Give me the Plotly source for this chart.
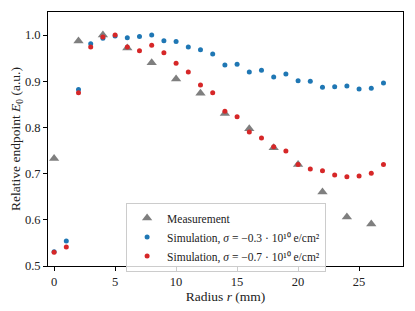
import plotly.graph_objects as go

meas_r = [0, 2, 4, 6, 8, 10, 12, 14, 16, 18, 20, 22, 24, 26]
meas_e = [0.733, 0.987, 1.0, 0.972, 0.940, 0.905, 0.874, 0.830, 0.797, 0.756, 0.720, 0.660, 0.606, 0.591]

sim_r = list(range(0, 28))
sim03_e = [0.531, 0.554, 0.882, 0.981, 0.993, 0.998, 0.994, 0.997, 1.0, 0.988, 0.986, 0.974,
           0.968, 0.959, 0.935, 0.937, 0.920, 0.924, 0.909, 0.916, 0.901, 0.900, 0.887, 0.888,
           0.890, 0.883, 0.885, 0.896]
sim07_e = [0.530, 0.541, 0.875, 0.974, 0.996, 1.0, 0.974, 0.966, 0.978, 0.962, 0.939, 0.920,
           0.892, 0.875, 0.835, 0.823, 0.790, 0.777, 0.758, 0.749, 0.720, 0.710, 0.706, 0.697,
           0.693, 0.695, 0.701, 0.720]

x_ticks = [0, 5, 10, 15, 20, 25]
y_ticks = [0.5, 0.6, 0.7, 0.8, 0.9, 1.0]

font = "Liberation Serif"

fig = go.Figure()
fig.add_trace(go.Scatter(x=meas_r, y=meas_e, mode="markers", name="Measurement",
                         marker=dict(symbol="triangle-up", size=9, color="#7f7f7f")))
fig.add_trace(go.Scatter(x=sim_r, y=sim03_e, mode="markers",
                         name="Simulation, <i>σ</i> = −0.3 · 10¹⁰ e/cm²",
                         marker=dict(size=5, color="#1f77b4")))
fig.add_trace(go.Scatter(x=sim_r, y=sim07_e, mode="markers",
                         name="Simulation, <i>σ</i> = −0.7 · 10¹⁰ e/cm²",
                         marker=dict(size=5, color="#d62728")))

axis_common = dict(showline=True, linecolor="black", linewidth=1, mirror=True,
                   ticks="outside", ticklen=4, tickcolor="black", showgrid=False,
                   zeroline=False, automargin=False,
                   tickfont=dict(size=12.5, color="#222222", family=font))

fig.update_layout(
    width=415, height=311,
    margin=dict(l=40, r=20, t=4, b=53),
    plot_bgcolor="white", paper_bgcolor="white",
    font=dict(family=font, size=12.5, color="#222222"),
    xaxis=dict(range=[-0.5, 28.6], tickvals=x_ticks,
               title=dict(text="Radius <i>r</i> (mm)", font=dict(size=13.5), standoff=0),
               **axis_common),
    yaxis=dict(range=[0.5, 1.05], tickvals=y_ticks, tickformat=".1f",
               title=dict(text="Relative endpoint <i>E</i><sub>0</sub> (a.u.)", font=dict(size=13.5), standoff=8),
               **axis_common),
    legend=dict(x=0.22, y=0.25, xanchor="left", yanchor="top",
                bgcolor="rgba(255,255,255,0.8)", bordercolor="#cccccc", borderwidth=1,
                font=dict(size=11.5, family=font), itemwidth=30, tracegroupgap=0),
    showlegend=True,
)

fig.write_html("out.html")
